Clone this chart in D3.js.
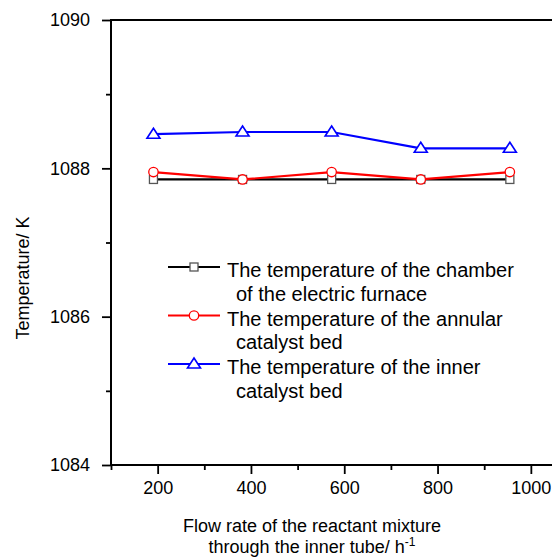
<!DOCTYPE html>
<html>
<head>
<meta charset="utf-8">
<script src="https://cdn.jsdelivr.net/npm/d3@7"></script>
<style>
  body { margin: 0; background: #fff; }
  svg { font-family: "Liberation Sans", Arial, sans-serif; }
</style>
</head>
<body>
<div id="chart"></div>
<script>
const flowRates = [191, 382, 573, 764, 955];
const chamberTemp = [1087.85, 1087.85, 1087.85, 1087.85, 1087.85];
const annularTemp = [1087.95, 1087.85, 1087.95, 1087.85, 1087.95];
const innerTemp = [1088.46, 1088.49, 1088.49, 1088.27, 1088.27];

const xMajor = [200, 400, 600, 800, 1000];
const xMinor = [100, 300, 500, 700, 900];
const yMajor = [1084, 1086, 1088, 1090];
const yMinor = [1085, 1087, 1089];

const legendLines = [
    ["The temperature of the chamber", "of the electric furnace"],
    ["The temperature of the annular", "catalyst bed"],
    ["The temperature of the inner", "catalyst bed"]
];

const width = 552, height = 557;

const svg = d3.select("#chart")
    .append("svg")
    .attr("width", width)
    .attr("height", height);

const x = d3.scaleLinear().domain([100, 1100]).range([111, 577.5]);
const y = d3.scaleLinear().domain([1084, 1090]).range([465, 20]);

const series = [
    { name: "chamber", values: chamberTemp, color: "#000", marker: "square" },
    { name: "annular", values: annularTemp, color: "#f00", marker: "circle" },
    { name: "inner", values: innerTemp, color: "#00f", marker: "triangle" }
];

// frame (top + right run off the edge)
svg.append("rect")
    .attr("x", x(100)).attr("y", y(1090))
    .attr("width", x(1100) - x(100)).attr("height", y(1084) - y(1090))
    .attr("fill", "none").attr("stroke", "#000").attr("stroke-width", 2);

function styleAxis(g) {
    g.select(".domain").remove();
    g.selectAll(".tick line").attr("stroke", "#000").attr("stroke-width", 1.8);
    g.selectAll(".tick text").attr("fill", "#000").attr("font-size", "18px");
}

// x axis
svg.append("g")
    .attr("transform", `translate(0,${y(1084)})`)
    .call(d3.axisBottom(x).tickValues(xMajor).tickSize(9).tickPadding(7).tickFormat(d3.format("d")))
    .call(styleAxis)
    .attr("font-family", null);
svg.append("g")
    .attr("transform", `translate(0,${y(1084)})`)
    .call(d3.axisBottom(x).tickValues(xMinor).tickSize(5).tickFormat(""))
    .call(styleAxis);

// y axis
svg.append("g")
    .attr("transform", `translate(${x(100)},0)`)
    .call(d3.axisLeft(y).tickValues(yMajor).tickSize(9).tickPadding(12).tickFormat(d3.format("d")))
    .call(styleAxis)
    .attr("font-family", null);
svg.append("g")
    .attr("transform", `translate(${x(100)},0)`)
    .call(d3.axisLeft(y).tickValues(yMinor).tickSize(5).tickFormat(""))
    .call(styleAxis);

// axis titles
svg.append("text")
    .attr("transform", "translate(29,278) rotate(-90)")
    .attr("text-anchor", "middle")
    .attr("font-size", "18px")
    .attr("fill", "#000")
    .text("Temperature/ K");

const xTitle = svg.append("text")
    .attr("text-anchor", "middle")
    .attr("font-size", "18px")
    .attr("fill", "#000");
xTitle.append("tspan").attr("x", 312).attr("y", 532).text("Flow rate of the reactant mixture");
const l2 = xTitle.append("tspan").attr("x", 312).attr("y", 553).text("through the inner tube/ h");
l2.append("tspan").attr("dy", -7).attr("font-size", "12px").text("-1");

// markers
function drawMarker(g, type, color, cx, cy) {
    if (type === "square") {
        g.append("rect")
            .attr("x", cx - 4).attr("y", cy - 4)
            .attr("width", 8).attr("height", 8)
            .attr("fill", "#fff").attr("stroke", "#555").attr("stroke-width", 1.3);
    } else if (type === "circle") {
        g.append("circle")
            .attr("cx", cx).attr("cy", cy).attr("r", 4.7)
            .attr("fill", "#fff").attr("stroke", color).attr("stroke-width", 1.3);
    } else {
        g.append("path")
            .attr("d", `M${cx},${cy - 6}L${cx + 6.5},${cy + 4}L${cx - 6.5},${cy + 4}Z`)
            .attr("fill", "#fff").attr("stroke", color).attr("stroke-width", 1.6);
    }
}

const line = d3.line()
    .x((d, i) => x(flowRates[i]))
    .y(d => y(d));

series.forEach(s => {
    const g = svg.append("g").attr("class", "series-" + s.name);
    g.append("path")
        .attr("d", line(s.values))
        .attr("fill", "none")
        .attr("stroke", s.color)
        .attr("stroke-width", 2.2);
    s.values.forEach((v, i) => drawMarker(g, s.marker, s.color, x(flowRates[i]), y(v)));
});

// legend
const legend = svg.append("g").attr("font-size", "20px").attr("fill", "#000");
series.forEach((s, i) => {
    const top = 277 + i * 48.5;
    const sy = top - 10;
    legend.append("line")
        .attr("x1", 168).attr("x2", 220)
        .attr("y1", sy).attr("y2", sy)
        .attr("stroke", s.color).attr("stroke-width", 2.2);
    drawMarker(legend, s.marker, s.color, 194, sy);
    legend.append("text").attr("x", 227).attr("y", top).text(legendLines[i][0]);
    legend.append("text").attr("x", 236).attr("y", top + 23.5).text(legendLines[i][1]);
});
</script>
</body>
</html>
